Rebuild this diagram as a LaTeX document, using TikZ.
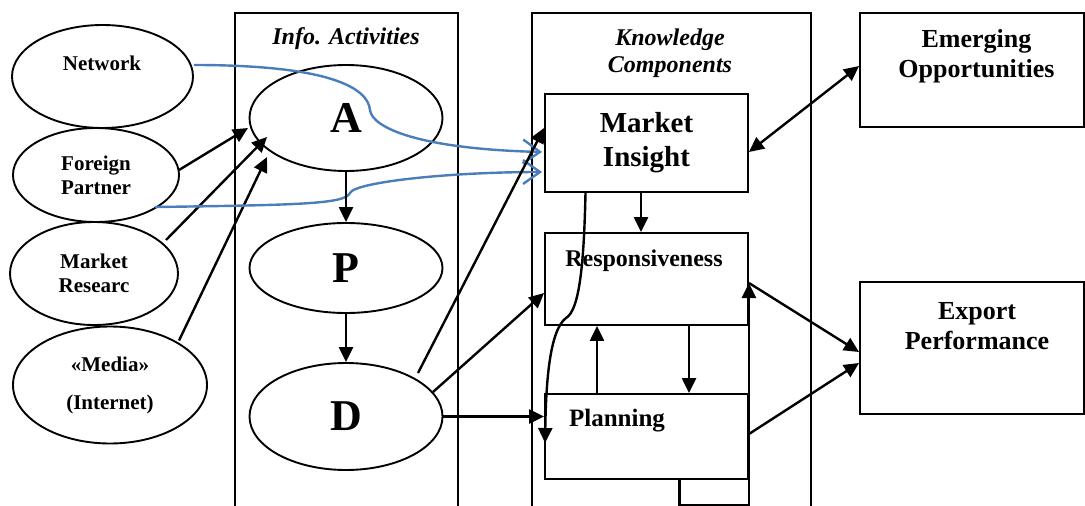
\documentclass[tikz,border=0pt]{standalone}
\usepackage{fontspec}
\setmainfont{Liberation Serif}
\usetikzlibrary{arrows.meta,shapes.geometric,calc}
\definecolor{linkblue}{RGB}{74,126,187}
\begin{document}
\begin{tikzpicture}[x=1pt,y=-1pt,
  oval/.style={draw,ellipse,line width=1.9pt,inner sep=0pt},
  blockbox/.style={draw,rectangle,line width=1.9pt,inner sep=0pt},
  frame/.style={line width=1.6pt},
  arr/.style={line width=2.4pt,-{Triangle[length=15pt,width=14pt]}},
  barr/.style={line width=2.4pt,{Triangle[length=15pt,width=14pt]}-{Triangle[length=15pt,width=14pt]}},
  bluearr/.style={draw=linkblue,line width=2.4pt,-{Straight Barb[length=17pt,width=24pt,line width=2.4pt]}},
  small/.style={font=\fontsize{21}{24}\selectfont\bfseries,align=center},
  letter/.style={font=\fontsize{44}{48}\selectfont\bfseries},
  head/.style={font=\fontsize{24}{27}\selectfont\bfseries\itshape,align=center},
  mid/.style={font=\fontsize{24}{28}\selectfont\bfseries,align=center},
  big/.style={font=\fontsize{26}{30}\selectfont\bfseries,align=center}]
\useasboundingbox (0,0) rectangle (1085,506);

% column frames (open at the bottom)
\draw[frame] (235,506) -- (235,12.7) -- (458,12.7) -- (458,506);
\draw[frame] (532,506) -- (532,12.7) -- (810.7,12.7) -- (810.7,506);
\node[head] (infohead) at (346,39) {Info. Activities};
\node[head] (knowhead) at (670,53) {Knowledge\\Components};

% information sources
\node[oval,minimum width=181pt,minimum height=103pt] (net) at (102.5,76.5) {};
\node[small] (nettext) at (102,63) {Network};
\node[oval,minimum width=166pt,minimum height=94pt,small] (fp) at (96,175) {Foreign\\Partner};
\node[oval,minimum width=168pt,minimum height=103pt,small] (mr) at (94,273.5) {Market\\Researc};
\node[oval,minimum width=194pt,minimum height=117pt,small,font=\fontsize{21}{38}\selectfont\bfseries] (med) at (110,385) {«Media»\\(Internet)};

% information activities
\node[oval,minimum width=193pt,minimum height=106pt,letter] (A) at (346,118) {A};
\node[oval,minimum width=193pt,minimum height=90pt,letter] (P) at (346,268) {P};
\node[oval,minimum width=193pt,minimum height=107pt,letter] (D) at (346,416.5) {D};

% knowledge components
\node[blockbox,minimum width=203pt,minimum height=98pt,font=\fontsize{29}{34}\selectfont\bfseries,align=center] (mi) at (646.5,143) {Market\\Insight};
\node[blockbox,minimum width=203pt,minimum height=92pt] (resp) at (646.5,279) {};
\node[mid] (resptext) at (644,261) {Responsiveness};
\node[blockbox,minimum width=203pt,minimum height=85pt] (plan) at (646.5,436.5) {};
\node[mid,font=\fontsize{25}{28}\selectfont\bfseries] (plantext) at (617,421) {Planning};

% outcomes
\node[blockbox,minimum width=224pt,minimum height=114pt] (emo) at (972,69.7) {};
\node[big] (emotext) at (976.5,56) {Emerging\\Opportunities};
\node[blockbox,minimum width=224pt,minimum height=132pt] (exp) at (972,348) {};
\node[big] (exptext) at (977,326) {Export\\Performance};

% sources feeding acquisition
\draw[arr] ($(fp)+(83,-5)$) -- ($(A)+(-98,10)$);
\draw[arr] ($(mr)+(72,-33.5)$) -- ($(A)+(-79,19)$);
\draw[arr] ($(med)+(69,-44.5)$) -- ($(A)+(-79,39)$);

% direct links into market insight
\draw[bluearr] ($(net.east)+(0,-11.5)$) .. controls (330,65) and (368,88) .. (370,110)
  .. controls (372,128) and (420,149) .. ($(mi.west)+(-2,9)$);
\draw[bluearr] ($(fp)+(59,32)$) .. controls (300,205) and (345,204) .. (350,193)
  .. controls (355,182) and (450,172) .. ($(mi.west)+(-2,29)$);

% A -> P -> D
\draw[arr] (A.south) -- (P.north);
\draw[arr] (P.south) -- (D.north);

% dissemination into knowledge components
\draw[arr] ($(D)+(72,-43.5)$) -- ($(mi.west)+(0,-15)$);
\draw[arr] ($(D)+(87,-24.5)$) -- ($(resp.west)+(0,14)$);
\draw[arr] (D.east) -- (D.east -| plan.west);

% links among knowledge components
\draw[arr] ($(mi.south)+(-5.5,0)$) -- ($(resp.north)+(-5.5,0)$);
\draw[arr] ($(plan.north)+(-49.5,0)$) -- ($(resp.south)+(-49.5,0)$);
\draw[arr] ($(resp.south)+(42.5,0)$) -- ($(plan.north)+(42.5,0)$);
\draw[arr] ($(plan.south)+(33,0)$) -- ++(0,25) -| ($(resp.east)+(0,4)$);
\draw[arr] ($(mi.south)+(-61,0)$) .. controls (584,260) and (580,310) .. (566,318)
  .. controls (550,330) and (546,380) .. ($(plan.west)+(1,6.5)$);

% outcomes
\draw[barr] ($(mi.east)+(0,9)$) -- ($(emo.west)+(0,-3.7)$);
\draw[arr] ($(resp.east)+(0,4)$) -- ($(exp.west)+(0,4)$);
\draw[arr] ($(plan.east)+(0,-2.5)$) -- ($(exp.west)+(0,15)$);
\end{tikzpicture}
\end{document}
